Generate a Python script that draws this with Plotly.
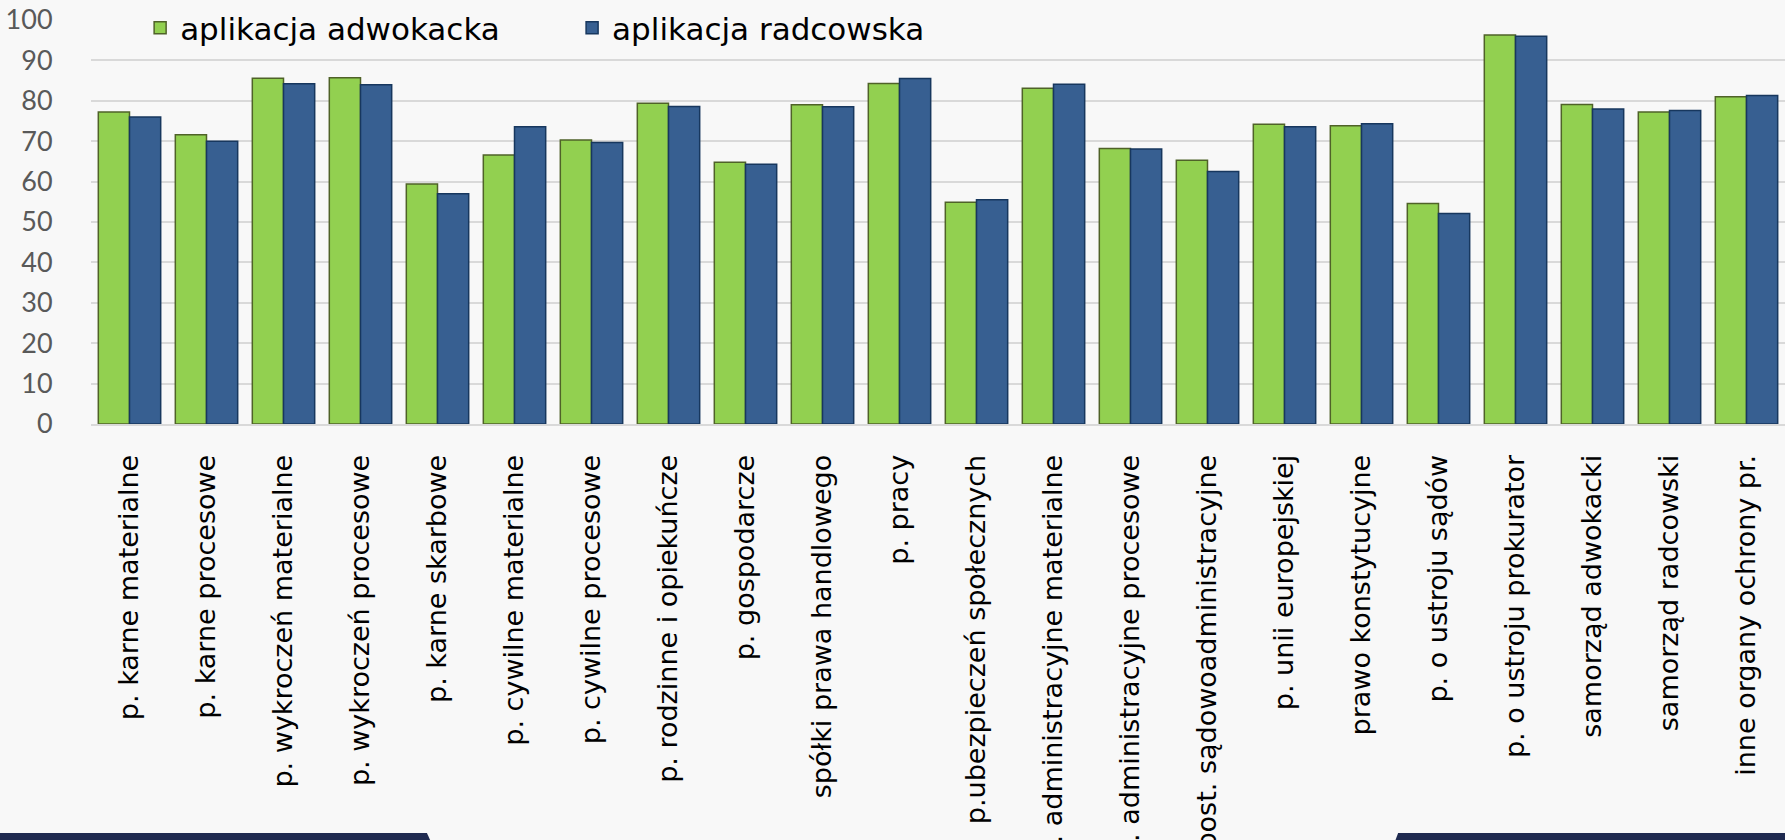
import plotly.graph_objects as go

# Data
categories = [
    "p. karne materialne", "p. karne procesowe", "p. wykroczeń materialne",
    "p. wykroczeń procesowe", "p. karne skarbowe", "p. cywilne materialne",
    "p. cywilne procesowe", "p. rodzinne i opiekuńcze", "p. gospodarcze",
    "spółki prawa handlowego", "p. pracy", "p.ubezpieczeń społecznych",
    "p. administracyjne materialne", "p. administracyjne procesowe",
    "post. sądowoadministracyjne", "p. unii europejskiej", "prawo konstytucyjne",
    "p. o ustroju sądów", "p. o ustroju prokurator", "samorząd adwokacki",
    "samorząd radcowski", "inne organy ochrony pr.",
]
adwokacka = [77.2, 71.6, 85.6, 85.7, 59.4, 66.6, 70.3, 79.4, 64.8, 79.0, 84.3,
             54.9, 83.1, 68.2, 65.3, 74.2, 73.8, 54.6, 96.3, 79.1, 77.2, 81.0]
radcowska = [76.0, 70.0, 84.2, 84.0, 57.0, 73.6, 69.7, 78.6, 64.3, 78.5, 85.5,
             55.5, 84.1, 68.1, 62.5, 73.6, 74.3, 52.1, 96.0, 78.0, 77.6, 81.3]
y_ticks = list(range(0, 101, 10))

LABEL_FONT = "'DejaVu Sans', sans-serif"
TICK_FONT = "Lato, sans-serif"

fig = go.Figure()
fig.add_trace(go.Bar(
    x=categories, y=adwokacka, name="aplikacja adwokacka",
    marker=dict(color="#92d050", line=dict(color="#4f6228", width=1.5)),
    legend="legend", showlegend=True,
))
fig.add_trace(go.Bar(
    x=categories, y=radcowska, name="aplikacja radcowska",
    marker=dict(color="#375f91", line=dict(color="#17375e", width=1.5)),
    legend="legend2", showlegend=True,
))

# dark navy bands along the bottom edge (decoration)
bands = [
    dict(type="path", xref="paper", yref="paper", layer="above",
         path="M -0.06 -1.0124 L 0.1983 -1.0124 L 0.2013 -1.04 L -0.06 -1.04 Z",
         fillcolor="#1f2a50", line=dict(width=0)),
    dict(type="path", xref="paper", yref="paper", layer="above",
         path="M 0.7716 -1.0124 L 1.01 -1.0124 L 1.01 -1.04 L 0.7692 -1.04 Z",
         fillcolor="#1f2a50", line=dict(width=0)),
]

legend_font = dict(size=31, family=LABEL_FONT, color="#000000")

fig.update_layout(
    width=1785, height=840,
    autosize=False,
    showlegend=True,
    barmode="group",
    bargap=0.19,
    bargroupgap=0,
    paper_bgcolor="#f8f8f8",
    plot_bgcolor="rgba(0,0,0,0)",
    margin=dict(l=91, r=0, t=20, b=416),
    font=dict(family=LABEL_FONT, color="#000000"),
    legend=dict(
        x=0.029, xanchor="left", y=0.98, yanchor="middle",
        font=legend_font, bgcolor="rgba(0,0,0,0)",
    ),
    legend2=dict(
        x=0.284, xanchor="left", y=0.98, yanchor="middle",
        font=legend_font, bgcolor="rgba(0,0,0,0)",
    ),
    xaxis=dict(
        automargin=False,
        tickangle=-90,
        tickfont=dict(size=27, family=LABEL_FONT, color="#000000"),
        showline=True, linecolor="#d9d9d9", linewidth=2,
        ticks="outside", ticklen=18, tickcolor="rgba(0,0,0,0)",
        showgrid=False,
    ),
    yaxis=dict(
        automargin=False,
        range=[0, 100],
        tickvals=y_ticks,
        tickfont=dict(size=27, family=TICK_FONT, color="#595959"),
        showgrid=True, gridcolor="#d9d9d9", gridwidth=2,
        zeroline=False,
        showline=False,
        ticks="outside", ticklen=32, tickcolor="rgba(0,0,0,0)",
    ),
    shapes=bands,
)

fig.write_html("out.html", config={"displayModeBar": False},
               post_script="document.body.style.margin='0';")
